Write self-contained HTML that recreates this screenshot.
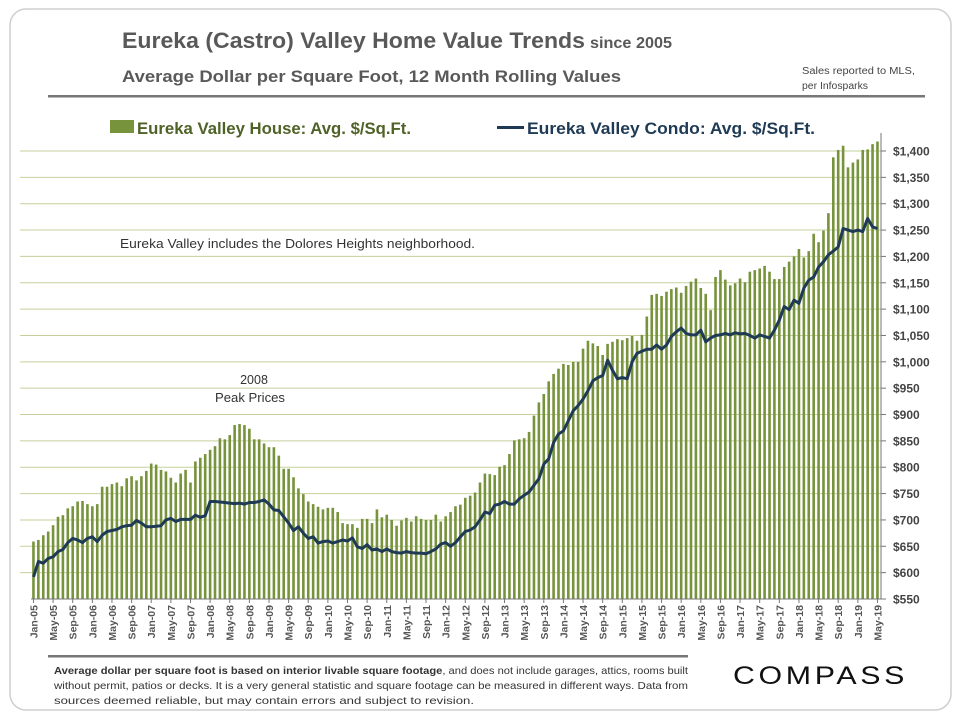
<!DOCTYPE html>
<html><head><meta charset="utf-8"><style>
html,body{margin:0;padding:0;background:#fff;}
svg{display:block;font-family:"Liberation Sans",sans-serif;}
</style></head><body>
<svg id="chart" width="960" height="720" viewBox="0 0 960 720">
<rect x="10" y="9" width="941" height="701" rx="16" fill="#fff" stroke="#cfcfcf" stroke-width="1.5"/>
<text x="122" y="48" font-size="22" font-weight="bold" fill="#595959" textLength="463" lengthAdjust="spacingAndGlyphs">Eureka (Castro) Valley Home Value Trends</text>
<text x="590" y="48" font-size="16" font-weight="bold" fill="#595959" textLength="82" lengthAdjust="spacingAndGlyphs">since 2005</text>
<text x="122" y="82" font-size="17" font-weight="bold" fill="#595959" textLength="499" lengthAdjust="spacingAndGlyphs">Average Dollar per Square Foot, 12 Month Rolling Values</text>
<text x="802" y="74" font-size="10" fill="#444" textLength="113" lengthAdjust="spacingAndGlyphs">Sales reported to MLS,</text>
<text x="802" y="89" font-size="10" fill="#444" textLength="66" lengthAdjust="spacingAndGlyphs">per Infosparks</text>
<rect x="48" y="95" width="877" height="2.5" fill="#777"/>
<g>
<rect x="110" y="120" width="24" height="13" fill="#77933c"/>
<text x="137" y="134" font-size="17" font-weight="bold" fill="#4f6228" textLength="274" lengthAdjust="spacingAndGlyphs">Eureka Valley House: Avg. $/Sq.Ft.</text>
<rect x="497" y="126" width="27" height="3" fill="#1f3a55"/>
<text x="527" y="134" font-size="17" font-weight="bold" fill="#1f3a55" textLength="288" lengthAdjust="spacingAndGlyphs">Eureka Valley Condo: Avg. $/Sq.Ft.</text>
</g>
<g id="grid"></g><g id="bars"></g><g id="line"></g><g id="axes"></g>
<text x="120" y="248" font-size="12.5" fill="#333" textLength="355" lengthAdjust="spacingAndGlyphs">Eureka Valley includes the Dolores Heights neighborhood.</text>
<text x="254" y="384" font-size="12.5" fill="#333" text-anchor="middle">2008</text>
<text x="250" y="402" font-size="12.5" fill="#333" text-anchor="middle" textLength="70" lengthAdjust="spacingAndGlyphs">Peak Prices</text>
<rect x="48" y="655" width="640" height="2.5" fill="#777"/>
<g font-size="10.5" fill="#333">
<text x="54" y="674" textLength="634" lengthAdjust="spacingAndGlyphs"><tspan font-weight="bold">Average dollar per square foot is based on interior livable square footage</tspan>, and does not include garages, attics, rooms built</text>
<text x="54" y="689" textLength="634" lengthAdjust="spacingAndGlyphs">without permit, patios or decks. It is a very general statistic and square footage can be measured in different ways. Data from</text>
<text x="54" y="704" textLength="420" lengthAdjust="spacingAndGlyphs">sources deemed reliable, but may contain errors and subject to revision.</text>
</g>
<text x="733" y="684" font-size="25" fill="#111" letter-spacing="3" textLength="175" lengthAdjust="spacingAndGlyphs">COMPASS</text>
</svg>
<script>
const months = ["Jan","Feb","Mar","Apr","May","Jun","Jul","Aug","Sep","Oct","Nov","Dec"];
const years = [5,6,7,8,9,10,11,12,13,14,15,16,17,18,19];
const houseValues = [
659,662,671,678,690,706,709,722,726,735,736,730,
726,730,763,763,768,771,764,779,783,775,783,793,
807,805,795,792,780,771,788,795,771,811,818,825,
833,840,855,853,861,880,882,880,873,853,853,845,
838,838,822,797,797,781,760,749,735,730,725,720,
723,723,715,694,692,692,685,702,702,694,720,705,
710,700,689,699,704,697,707,702,700,700,710,697,
707,715,726,729,742,746,752,771,788,787,785,801,
804,825,851,853,855,867,898,923,939,963,977,987,
996,994,1000,1000,1025,1040,1035,1030,1013,1034,1038,1043,
1041,1045,1049,1040,1051,1086,1127,1129,1125,1133,1138,1141,
1131,1144,1152,1158,1140,1129,1098,1161,1174,1156,1145,1149,
1158,1151,1171,1174,1177,1182,1171,1157,1157,1180,1190,1200,
1214,1198,1210,1243,1227,1249,1282,1388,1402,1410,1369,1378,
1384,1402,1403,1413,1418];
const condoValues = [
592,621,618,627,630,640,644,657,665,662,657,665,
668,659,671,678,680,682,687,689,690,699,694,687,
687,688,689,700,703,697,701,701,701,709,705,708,
735,735,734,733,732,731,732,730,733,733,735,738,
730,719,718,706,694,680,687,675,665,668,656,659,
660,656,659,662,660,666,649,646,653,643,645,640,
645,640,638,637,640,638,637,637,636,640,645,654,
657,650,657,668,678,681,687,700,715,712,728,730,
735,730,730,740,747,753,766,778,806,816,847,863,
869,888,907,917,929,945,964,970,974,1003,984,968,
970,968,1000,1016,1020,1024,1024,1032,1024,1032,1048,1057,
1064,1054,1051,1051,1060,1038,1045,1050,1051,1054,1051,1055,
1053,1054,1050,1045,1051,1048,1045,1060,1079,1105,1099,1117,
1111,1140,1155,1161,1180,1190,1203,1210,1218,1253,1250,1247,
1250,1247,1272,1256,1253];
const yTicks = [550,600,650,700,750,800,850,900,950,1000,1050,1100,1150,1200,1250,1300,1350,1400];
const categories = [];
years.forEach(y=>months.forEach(m=>{ if(categories.length<houseValues.length) categories.push(m+"-"+String(y).padStart(2,"0")); }));

const NS="http://www.w3.org/2000/svg";
const X0=31, STEP=4.907, Y0=599, YMIN=550, PXPER=(599-151)/850;
function xScale(i){return X0+(i+0.5)*STEP;}
function yScale(v){return Y0-(v-YMIN)*PXPER;}
function mk(tag,attrs,parent){const e=document.createElementNS(NS,tag);for(const k in attrs)e.setAttribute(k,attrs[k]);parent.appendChild(e);return e;}
const grid=document.getElementById('grid'), bars=document.getElementById('bars'), line=document.getElementById('line'), axes=document.getElementById('axes');
yTicks.forEach(t=>{
  if(t>YMIN){const g=mk('line',{x1:20,x2:881,y1:yScale(t),y2:yScale(t),stroke:'#c5d19c','stroke-width':1},grid);
  
  }
  const tk=mk('line',{x1:881,x2:886,y1:yScale(t),y2:yScale(t),stroke:'#777','stroke-width':1},axes);
  
  
  const lb=mk('text',{x:893,y:yScale(t)+4.5,'font-size':12,'font-weight':'bold',fill:'#444'},axes);
  lb.textContent='$'+t.toLocaleString('en-US');
  
  
});
houseValues.forEach((v,i)=>{
  const r=mk('rect',{x:xScale(i)-1.3,y:yScale(v),width:2.6,height:Y0-yScale(v),fill:'#77933c'},bars);
  
  
});
const pts=condoValues.map((v,i)=>xScale(i).toFixed(1)+','+yScale(v).toFixed(1)).join(' ');
const pl=mk('polyline',{points:pts,fill:'none',stroke:'#1f3a55','stroke-width':3,'stroke-linejoin':'round'},line);


const xa=mk('line',{x1:31,x2:881,y1:Y0,y2:Y0,stroke:'#777','stroke-width':1},axes);


const ya=mk('line',{x1:881,x2:881,y1:133,y2:Y0,stroke:'#777','stroke-width':1},axes);


categories.forEach((c,i)=>{
  if(i%4!==0) return;
  const x=xScale(i);
  const tk=mk('line',{x1:x,x2:x,y1:Y0,y2:Y0+4,stroke:'#777','stroke-width':1},axes);
  
  
  const lb=mk('text',{x:0,y:0,'font-size':10.5,'font-weight':'bold',fill:'#555','text-anchor':'end',transform:`translate(${x+4},${Y0+6}) rotate(-90)`},axes);
  lb.textContent=c;
  
  
});
</script>
</body></html>
